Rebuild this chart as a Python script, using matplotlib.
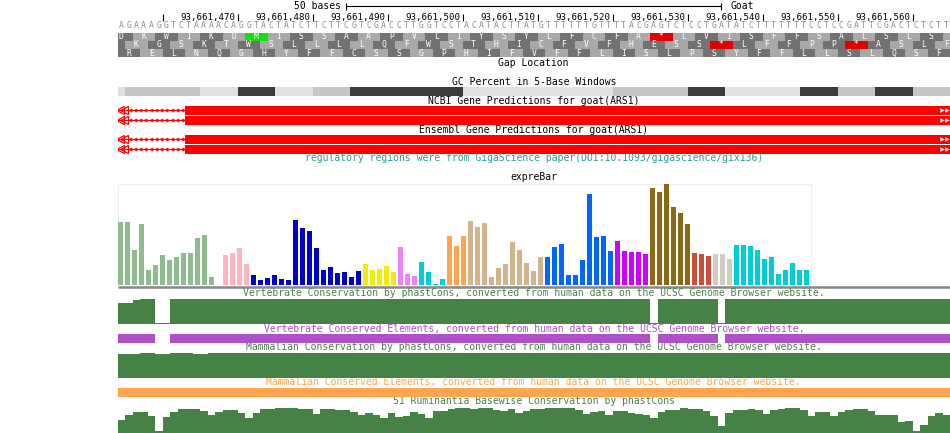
import matplotlib
matplotlib.use("Agg")
import matplotlib.pyplot as plt
import numpy as np

W, H = 950, 433
MONO = "DejaVu Sans Mono"
FS = 7.0        # track titles
FS_RULER = 6.6
FS_BASE = 5.8   # bases and amino acids

# window shown (0-based start on the chromosome), one base = 7.5 px
win_start = 93661454
n_bases = 111

seq = ("AGAAAGGTCTAAAACAGGTACTATCTTCTTCGTCGACCTTGGTCCTACATACTTAT"
       "GTTTTTTGTTTTACGAGTCTCCTGATATCTTTTTTTCCTCCGATTCGACTCTCTT")

ruler_ticks = list(range(93661460, 93661561, 10))
scale_bases = 50

# three reading frames
frame_letters = ["DKWIKDMISSAAPVLIYSYLFCFA*LVISFFSALSLS",
                 "KGSKTWSLLLLQFWSTHICFVFHESS*LFFPP*ASLF",
                 "RELNQGHYFFCSSGPHIFVFFLISLPSYFFLLSLQSF"]
frame_first = [-1, 1, 0]
frame_dark_shift = [0, 1, 0]

# GC percent in 5-base windows
gc_starts = np.arange(93661450, 93661565, 5)
gc_pct = [20, 40, 40, 20, 60, 20, 40, 60, 60, 60, 20, 20,
          20, 20, 40, 40, 60, 20, 20, 60, 40, 60, 40]
gc_colors = {20: "#e1e1e1", 40: "#c6c6c6", 60: "#3b3b3b"}

# gene models (thick part starts here, runs past the right edge)
ncbi_thick = [93661463, 93661463]
ensembl_thick = [93661463, 93661463]

# expreBar
tissue_colors = ["#8fbc8f", "#ffb6c1", "#0000cd", "#eeee00", "#ee82ee", "#00ced1",
                 "#ffa54f", "#d2b48c", "#0066ff", "#cc00ff", "#8b6914", "#cd4f39",
                 "#cdcdc1", "#00ced1"]
tissue_counts = [15, 4, 16, 5, 3, 4, 3, 11, 10, 5, 6, 3, 3, 11]
expr_values = [63, 63, 35, 61, 15, 20, 30, 25, 28, 32, 32, 47, 50, 8, 0,
               30, 32, 37, 21,
               10, 5, 7, 10, 6, 5, 65, 57, 54, 37, 15, 18, 12, 13, 8, 14,
               21, 15, 16, 19, 13,
               38, 11, 9,
               23, 13, 1, 6,
               49, 39, 49,
               64, 58, 62, 8, 17, 21, 43, 35, 22, 14, 28,
               28, 38, 41, 10, 10, 25, 91, 48, 49, 34,
               44, 34, 33, 33, 31,
               97, 93, 101, 78, 72, 61,
               32, 31, 29,
               31, 31, 26,
               40, 40, 39, 35, 26, 28, 11, 15, 22, 15, 15]

# conservation (per base in window)
vert_cons = np.ones(n_bases)
vert_cons[[0, 1]] = 0.86
vert_cons[2] = 0.96
vert_cons[[5, 6, 71, 80]] = 0.04
vert_elements = [(0, 5), (7, 71), (72, 80), (81, 111)]

mamm_cons = np.ones(n_bases)
mamm_cons[[0, 1, 2, 5]] = 0.95
mamm_cons[[6, 10, 11]] = 0.96
mamm_elements = [(0, 111)]

rumin_cons = [0.53, 0.72, 0.84, 0.84, 0.68, 0.09, 0.64, 0.84, 0.96, 0.96,
              0.96, 0.88, 0.72, 0.84, 0.92, 0.92, 0.80, 0.60, 0.80, 0.96,
              0.96, 1.00, 1.00, 1.00, 0.96, 0.96, 0.76, 0.96, 0.96, 0.92,
              0.92, 0.84, 0.72, 0.80, 0.72, 0.60, 0.80, 0.64, 0.68, 0.84,
              0.76, 0.60, 0.88, 0.88, 0.96, 1.00, 1.00, 0.96, 1.00, 1.00,
              0.92, 0.88, 0.96, 0.80, 0.88, 0.96, 0.96, 1.00, 1.00, 1.00,
              1.00, 0.92, 0.76, 0.84, 0.88, 0.72, 0.88, 0.88, 0.80, 0.76,
              0.72, 0.60, 0.84, 0.92, 0.92, 1.00, 0.96, 0.96, 0.88, 0.68,
              0.29, 0.80, 0.92, 0.92, 0.96, 0.92, 0.76, 0.92, 0.96, 1.00,
              1.00, 0.92, 0.68, 0.84, 0.84, 0.68, 0.84, 0.92, 0.96, 0.96,
              0.88, 0.72, 0.72, 0.72, 0.44, 0.48, 0.08, 0.32, 0.68, 0.80,
              0.72]

GREEN = "#468246"
PURPLE = "#b050c8"
ORANGE = "#ffa54f"
RED = "#ff0000"

fig = plt.figure(figsize=(W / 100, H / 100), dpi=100)


def track_ax(top, bottom, left=117.5, right=950.0):
    ax = fig.add_axes([left / W, 1 - bottom / H, (right - left) / W, (bottom - top) / H])
    ax.set_xlim(win_start, win_start + n_bases)
    ax.axis("off")
    return ax


# overlay in pixel coordinates for the track titles
lab = fig.add_axes([0, 0, 1, 1])
lab.set_xlim(0, W)
lab.set_ylim(H, 0)
lab.axis("off")
cx = (117.5 + 950) / 2


def title(y, s, color="black"):
    lab.text(cx, y, s, ha="center", va="baseline", fontsize=FS, family=MONO, color=color)


# ruler + scale bar + sequence
rul = track_ax(0, 31)
rul.set_ylim(31, 0)
mid = win_start + n_bases / 2
rul.plot([mid - scale_bases / 2, mid + scale_bases / 2], [6, 6], color="black", lw=0.8)
rul.vlines([mid - scale_bases / 2, mid + scale_bases / 2], 2.5, 9.5, color="black", lw=0.8)
rul.text(mid - scale_bases / 2 - 0.7, 9, f"{scale_bases} bases", ha="right", va="baseline",
         fontsize=FS, family=MONO)
rul.text(mid + scale_bases / 2 + 1.2, 9, "Goat", ha="left", va="baseline", fontsize=FS, family=MONO)
rul.vlines(ruler_ticks, 14, 21, color="black", lw=0.8)
for p in ruler_ticks[1:]:
    rul.text(p - 0.3, 20, f"{p:,}", ha="right", va="baseline", fontsize=FS_RULER, family=MONO)
for i, b in enumerate(seq):
    rul.text(win_start + i + 0.5, 28.5, b, ha="center", va="baseline", fontsize=FS_BASE,
             family=MONO, color="#8c8c8c")

# amino acid frames
aa = track_ax(32.5, 57)
aa.set_ylim(3, 0)
for r, letters in enumerate(frame_letters):
    ks = np.arange(-1, (n_bases - frame_first[r]) // 3 + 1)
    starts = win_start + frame_first[r] + 3 * ks
    cols = []
    for k in ks:
        ch = letters[k] if 0 <= k < len(letters) else ""
        if ch == "M":
            cols.append("#10e010")
        elif ch == "*":
            cols.append("#e00000")
        elif (k + frame_dark_shift[r]) % 2 == 0:
            cols.append("#727272")
        else:
            cols.append("#a9a9a9")
    aa.bar(starts, 1, width=3, bottom=r, align="edge", color=cols, linewidth=0)
    for k, s in zip(ks, starts):
        if 0 <= k < len(letters):
            aa.text(s + 1.5, r + 0.82, letters[k], ha="center", va="baseline",
                    fontsize=FS_BASE, family=MONO, color="white", clip_on=True)

title(66.5, "Gap Location")

# GC percent
title(85, "GC Percent in 5-Base Windows")
gc = track_ax(87, 95.7)
gc.set_ylim(0, 1)
gc.bar(gc_starts, 1, width=5, align="edge", color=[gc_colors[v] for v in gc_pct], linewidth=0)


def gene_row(top, thick):
    ax = track_ax(top, top + 8.7)
    ax.set_ylim(0, 1)
    ax.plot([win_start, thick], [0.5, 0.5], color=RED, lw=0.8)
    xs = np.arange(win_start + 1.6, thick - 0.2, 0.7)
    ax.plot(xs, np.full(len(xs), 0.5), ls="none", marker="<", ms=2.2, mfc="none", mec=RED, mew=0.6)
    ax.plot([win_start + 0.35, win_start + 0.85], [0.5, 0.5], ls="none", marker="<",
            ms=6, mfc="none", mec=RED, mew=0.9)
    ax.bar(thick, 1, width=win_start + n_bases - thick, align="edge", color=RED, linewidth=0)
    ax.plot([win_start + n_bases - 1.1, win_start + n_bases - 0.45], [0.5, 0.5], ls="none",
            marker=">", ms=3.2, color="white", mew=0)


title(104, "NCBI Gene Predictions for goat(ARS1)")
for top, t in zip([106, 116], ncbi_thick):
    gene_row(top, t)
title(133.3, "Ensembl Gene Predictions for goat(ARS1)")
for top, t in zip([135, 145], ensembl_thick):
    gene_row(top, t)
title(161, "regulatory regions were from GigaScience paper(DOI:10.1093/gigascience/gix136)",
      color="#2a9a96")

# expreBar
title(179.5, "expreBar")
ex = fig.add_axes([118 / W, 1 - 285 / H, (811 - 118) / W, (285 - 184) / H])
colors = [c for c, n in zip(tissue_colors, tissue_counts) for _ in range(n)]
ex.bar(np.arange(len(expr_values)), expr_values, width=5 / 7, align="edge", color=colors, linewidth=0)
ex.set_xlim(0, len(expr_values))
ex.set_ylim(0, 101)
ex.set_xticks([])
ex.set_yticks([])
for side in ["left", "top", "right"]:
    ex.spines[side].set_color("#eeeeee")
    ex.spines[side].set_zorder(0)
ex.spines["bottom"].set_visible(False)
lab.plot([118, 950], [286.8, 286.8], color="#888888", lw=1.8, solid_capstyle="butt")

# conservation tracks
title(296, "Vertebrate Conservation by phastCons, converted from human data on the UCSC Genome Browser website.",
      color=GREEN)
v = track_ax(299, 324)
v.set_ylim(0, 1)
v.bar(win_start + np.arange(n_bases), vert_cons, width=1, align="edge", color=GREEN, linewidth=0)

title(331.7, "Vertebrate Conserved Elements, converted from human data on the UCSC Genome Browser website.",
      color=PURPLE)
ve = track_ax(334, 342.7)
ve.set_ylim(0, 1)
ve.broken_barh([(win_start + s, e - s) for s, e in vert_elements], (0, 1), color=PURPLE, linewidth=0)

title(350.5, "Mammalian Conservation by phastCons, converted from human data on the UCSC Genome Browser website.",
      color=GREEN)
m = track_ax(352.7, 377.7)
m.set_ylim(0, 1)
m.bar(win_start + np.arange(n_bases), mamm_cons, width=1, align="edge", color=GREEN, linewidth=0)

title(385.5, "Mammalian Conserved Elements, converted from human data on the UCSC Genome Browser website.",
      color=ORANGE)
me = track_ax(388, 396.7)
me.set_ylim(0, 1)
me.broken_barh([(win_start + s, e - s) for s, e in mamm_elements], (0, 1), color=ORANGE, linewidth=0)

title(404.5, "51 Ruminantia Basewise Conservation by phastCons", color=GREEN)
ru = track_ax(408, 433)
ru.set_ylim(0, 1)
ru.bar(win_start + np.arange(n_bases), rumin_cons, width=1, align="edge", color=GREEN, linewidth=0)

fig.savefig("out.png", dpi=100)
